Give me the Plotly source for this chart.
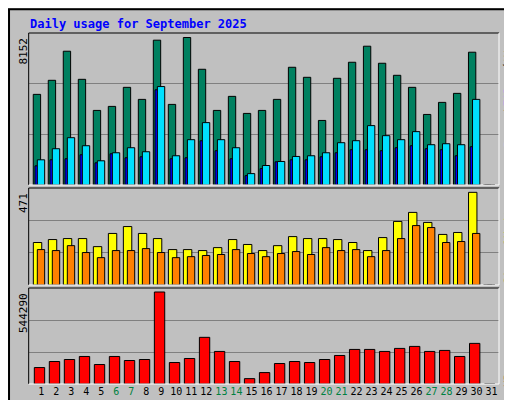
import plotly.graph_objects as go
from plotly.subplots import make_subplots

days = list(range(1, 32))
hits = [5009,5786,7394,5841,4122,4344,5398,4732,8004,4455,8152,6396,4122,4899,3956,4122,4732,6507,5952,3568,5897,6784,7671,6729,6063,5398,3900,4566,5065,7339,0]
files = [1059,1393,1450,1671,1226,1727,1505,1560,5262,1450,1505,2444,1894,1450,518,906,1282,1393,1393,1560,1782,1949,1949,1894,2060,2171,2005,1949,1616,2116,0]
pages = [1393,2005,2615,2171,1338,1782,2060,1838,5441,1616,2505,3448,2505,2060,629,1078,1300,1578,1616,1782,2338,2449,3282,2727,2505,2949,2227,2282,2227,4732,0]
visits = [216,231,236,236,195,262,297,262,236,180,180,175,190,231,206,175,200,246,236,236,231,216,175,241,323,369,318,257,267,471,0]
sites = [180,175,200,165,139,175,175,185,165,139,144,150,155,180,160,144,160,170,155,190,175,180,144,175,236,302,292,216,221,262,0]
kbytes = [97314,133062,144978,162852,115188,162852,139020,144978,544290,127104,150936,276054,192642,133062,31776,67524,121146,133062,127104,144978,168810,204558,204558,192642,210516,222432,192642,198600,162852,240306,0]
weekend = [6, 7, 13, 14, 20, 21, 27, 28]
ticklabels = [f'<span style="color:#008040">{d}</span>' if d in weekend else str(d) for d in days]

GREEN, BLUE, CYAN = "#008060", "#0000ff", "#00e0ff"
YEL, ORG, RED = "#ffff00", "#ff8000", "#ff0000"
BG = "#c0c0c0"
MONO = "DejaVu Sans Mono"

fig = make_subplots(rows=3, cols=1, shared_xaxes=True, vertical_spacing=0.0)
ln = dict(color="black", width=1)

def bar(x_off, y, w, color, row):
    fig.add_trace(go.Bar(x=[d + x_off for d in days], y=y, width=w, marker=dict(color=color, line=ln),
                         showlegend=False, hoverinfo="skip"), row=row, col=1)

bar(-0.29, hits, 0.49, GREEN, 1)
bar(-0.31, files, 0.22, BLUE, 1)
bar(-0.02, pages, 0.49, CYAN, 1)
bar(-0.25, visits, 0.56, YEL, 2)
bar(-0.02, sites, 0.49, ORG, 2)
bar(-0.12, kbytes, 0.69, RED, 3)

fig.update_layout(barmode="overlay", width=512, height=400, margin=dict(l=0, r=0, t=0, b=0),
                  paper_bgcolor=BG, plot_bgcolor=BG, font=dict(family=MONO, size=11, color="black"))

doms = [(0.5575, 0.9375), (0.3075, 0.55), (0.06, 0.3)]
ranges = [8401, 493, 568000]
for i in range(3):
    ya = "yaxis" if i == 0 else f"yaxis{i+1}"
    xa = "xaxis" if i == 0 else f"xaxis{i+1}"
    r = ranges[i]
    fig.layout[ya].update(domain=doms[i], range=[0, r], tickvals=[r/3, 2*r/3], showticklabels=False,
                          gridcolor="#808080", gridwidth=1, zeroline=False, showline=False, ticks="")
    fig.layout[xa].update(domain=[0.0404, 0.959], range=[0.16, 31.5], showgrid=False, zeroline=False,
                          showline=False, showticklabels=(i == 2), tickvals=days, ticktext=ticklabels,
                          ticks="", tickangle=0, tickfont=dict(family=MONO, size=10))

x0, x1 = 0.0404, 0.959
for (b, t) in doms:
    fig.add_shape(type="line", xref="paper", yref="paper", x0=x0, x1=x1, y0=t, y1=t, line=dict(color="black", width=1))
    fig.add_shape(type="line", xref="paper", yref="paper", x0=x0, x1=x0, y0=b, y1=t, line=dict(color="black", width=1))
    fig.add_shape(type="line", xref="paper", yref="paper", x0=x1, x1=x1, y0=b, y1=t, line=dict(color="white", width=1))
    fig.add_shape(type="line", xref="paper", yref="paper", x0=x0, x1=x1, y0=b, y1=b, line=dict(color="white", width=1))
fig.add_shape(type="rect", xref="paper", yref="paper", x0=0.002, x1=0.998, y0=0.003, y1=0.997,
              line=dict(color="black", width=2))
fig.add_shape(type="line", xref="paper", yref="paper", x0=0.006, x1=0.994, y0=0.008, y1=0.008,
              line=dict(color="#808080", width=3))
fig.add_shape(type="line", xref="paper", yref="paper", x0=0.994, x1=0.994, y0=0.008, y1=0.992,
              line=dict(color="#808080", width=3))

def rlab(text, color, ytop, ybot):
    fig.add_annotation(xref="paper", yref="paper", showarrow=False, x=500/512, y=1-(ytop+ybot)/2/400,
                       text=text, textangle=-90, xanchor="center", yanchor="middle",
                       font=dict(family=MONO, size=11, color=color))

rlab("Hits", GREEN, 28, 53)
rlab("/", "black", 54, 64)
rlab("Files", BLUE, 65, 100)
rlab("/", "black", 100, 109)
rlab("Pages", "#00c0e0", 110, 137)
rlab("Visits", "#e0e000", 197, 232)
rlab("/", "black", 233, 241)
rlab("Sites", ORG, 243, 277)
rlab("KBytes", RED, 341, 377)

ann = [
    dict(x=20/512, y=1-16/400, text="<b>Daily usage for September 2025</b>", xanchor="left", yanchor="middle",
         font=dict(color="#0000ff", size=12, family=MONO)),
    dict(x=15/512, y=1-28/400, text="8152", textangle=-90, xanchor="center", yanchor="top"),
    dict(x=15/512, y=1-183/400, text="471", textangle=-90, xanchor="center", yanchor="top"),
    dict(x=15/512, y=1-283/400, text="544290", textangle=-90, xanchor="center", yanchor="top"),
]
for a in ann:
    a.setdefault("font", dict(family=MONO, size=11, color="black"))
    fig.add_annotation(xref="paper", yref="paper", showarrow=False, **a)

fig.write_html("out.html")
